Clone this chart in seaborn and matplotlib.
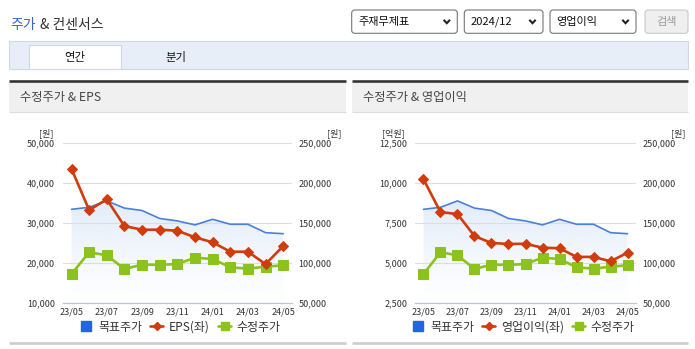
import numpy as np
import pandas as pd
import matplotlib
matplotlib.use("Agg")
import matplotlib.pyplot as plt
import seaborn as sns
from matplotlib.patches import Rectangle, FancyBboxPatch
from matplotlib.lines import Line2D
from matplotlib.colors import to_rgb

# ---------------- data ----------------
months = ["23/05", "23/06", "23/07", "23/08", "23/09", "23/10", "23/11",
          "23/12", "24/01", "24/02", "24/03", "24/04", "24/05"]
target_price = [167500, 170000, 178000, 169000, 166000, 156000, 153000,
                148000, 155000, 148800, 148800, 138300, 137000]
adj_price = [86600, 113800, 110000, 92900, 98300, 98000, 99100,
             107000, 105400, 95000, 93300, 95800, 97500]
eps = [43600, 33300, 36000, 29300, 28400, 28400, 28150,
       26500, 25250, 22900, 22900, 19800, 24300]
op_income = [10250, 8200, 8080, 6700, 6270, 6210, 6220,
             5975, 5940, 5400, 5400, 5125, 5660]

xtick_labels = ["23/05", "23/07", "23/09", "23/11", "24/01", "24/03", "24/05"]
eps_ticks = [10000, 20000, 30000, 40000, 50000]
op_ticks = [2500, 5000, 7500, 10000, 12500]
price_ticks = [50000, 100000, 150000, 200000, 250000]

# ---------------- style ----------------
sns.set_style("white")
plt.rcParams['font.family'] = ['Noto Sans CJK KR', 'DejaVu Sans']

W, H = 695, 349
fig = plt.figure(figsize=(W / 100, H / 100), dpi=100)
fig.patch.set_facecolor('white')

bg = fig.add_axes([0, 0, 1, 1])
bg.set_xlim(0, W)
bg.set_ylim(H, 0)
bg.axis('off')
bg.set_zorder(0)

RED = '#d03c0c'
GREEN = '#8cc21c'
BLUE_LINE = '#4a80dc'
BLUE_SQ = '#2266dd'
AXC = '#bcc6d6'
TICKC = '#333333'


def rect(x0, y0, x1, y1, **kw):
    bg.add_patch(Rectangle((x0, y0), x1 - x0, y1 - y0, **kw))


def hline(x0, x1, y, color, lw_px):
    bg.plot([x0, x1], [y, y], color=color, lw=lw_px * 0.72, solid_capstyle='butt')


# ---------------- page header ----------------
bg.text(10, 25, "주가", color='#3366cc', fontsize=10, va='center', ha='left')
bg.text(40.5, 25, "& 컨센서스", color='#333333', fontsize=10, va='center', ha='left')

# dropdowns
for (x0, x1, label) in [(351.7, 457.3, "주재무제표"), (464.3, 543, "2024/12"), (550, 636, "영업이익")]:
    bg.add_patch(FancyBboxPatch((x0, 10), x1 - x0, 23.3,
                                boxstyle='round,pad=0,rounding_size=3',
                                fc='white', ec='#767676', lw=0.8))
    bg.text(x0 + 6.5, 22, label, fontsize=8, color='#111111', va='center', ha='left')
    cx, cy = x1 - 10.5, 21.5
    bg.plot([cx - 3.2, cx, cx + 3.2], [cy - 1.7, cy + 1.7, cy - 1.7],
            color='#222222', lw=1.5, solid_joinstyle='miter', solid_capstyle='butt')
bg.add_patch(FancyBboxPatch((645, 10), 43, 23.3, boxstyle='round,pad=0,rounding_size=3',
                            fc='#efefef', ec='#c8c8c8', lw=0.8))
bg.text(666.5, 21.5, "검색", fontsize=8, color='#9a9a9a', va='center', ha='center')

# tab bar
rect(9.3, 40.7, 688, 69.3, fc='#e8eef8', ec='#cfd8e6', lw=0.8)
rect(29.3, 45.3, 120.7, 69.3, fc='white', ec='#cfd8e6', lw=0.8)
bg.text(75, 57.5, "연간", fontsize=8.2, color='#111111', va='center', ha='center')
bg.text(175.7, 57.5, "분기", fontsize=8.2, color='#111111', va='center', ha='center')

# panels
for (px0, px1, title) in [(9, 346, "수정주가 & EPS"), (352, 688, "수정주가 & 영업이익")]:
    rect(px0, 81.5, px1, 112, fc='#f0f0f0', ec='none')
    hline(px0, px1, 80.7, '#333333', 2.6)
    hline(px0, px1, 112.2, '#dddddd', 1.2)
    hline(px0, px1, 343.3, '#cccccc', 2.6)
    bg.text(px0 + 11, 97, title, fontsize=8.8, color='#444444', va='center', ha='left')


# ---------------- charts ----------------
def draw_chart(left_px, right_px, left_vals, left_label, left_ticks,
               left_unit, lunit_x, runit_x, legend_cx):
    top, bottom = 143.3, 303.3
    ax = fig.add_axes([left_px / W, 1 - bottom / H, (right_px - left_px) / W, (bottom - top) / H])
    ax2 = ax.twinx()
    ax.set_zorder(2)
    ax2.set_zorder(1)
    ax.patch.set_visible(False)
    ax2.patch.set_visible(False)

    df = pd.DataFrame({'pos': np.arange(len(months)), 'month': months,
                       'target': target_price, 'adj': adj_price, 'left': left_vals})

    # target price area (gradient) + line
    poly = ax2.fill_between(df['pos'], df['target'], price_ticks[0],
                            facecolor='none', edgecolor='none')
    grad = np.zeros((256, 1, 4))
    grad[..., :3] = to_rgb('#d8e6f9')
    grad[:, 0, 3] = np.linspace(0.0, 0.8, 256) ** 1.2
    im = ax2.imshow(grad, extent=[-0.5, len(months) - 0.5, price_ticks[0], 180000],
                    origin='lower', aspect='auto', zorder=0.3, interpolation='bilinear')
    im.set_clip_path(poly.get_paths()[0], transform=ax2.transData)

    sns.lineplot(data=df, x='pos', y='target', ax=ax2, color=BLUE_LINE, lw=1.2,
                 sort=False, zorder=3, legend=False)
    sns.lineplot(data=df, x='pos', y='adj', ax=ax2, color=GREEN, lw=1.9, marker='s',
                 ms=6.5, mec=GREEN, mfc=GREEN, sort=False, zorder=4, legend=False)
    sns.lineplot(data=df, x='pos', y='left', ax=ax, color=RED, lw=1.9, marker='D',
                 ms=5.5, mec=RED, mfc=RED, sort=False, zorder=4, legend=False)

    for a in (ax, ax2):
        a.set_xlabel('')
        a.set_ylabel('')
        for s in ('top', 'left', 'right'):
            a.spines[s].set_visible(False)
    ax2.spines['bottom'].set_visible(False)
    ax.spines['bottom'].set_color(AXC)
    ax.spines['bottom'].set_linewidth(0.9)

    ax.set_xlim(-0.5, len(months) - 0.5)
    ax.set_ylim(left_ticks[0], left_ticks[-1])
    ax2.set_ylim(price_ticks[0], price_ticks[-1])

    ax2.set_axisbelow(True)
    ax2.yaxis.grid(True, color='#dddddd', lw=0.8)
    ax.grid(False)

    ax.set_yticks(left_ticks)
    ax.set_yticklabels([f"{v:,}" for v in left_ticks])
    ax.tick_params(axis='y', length=0, pad=5.5, labelsize=6.5, labelcolor=TICKC)
    ax2.set_yticks(price_ticks)
    ax2.set_yticklabels([f"{v:,}" for v in price_ticks])
    ax2.tick_params(axis='y', length=0, pad=4.5, labelsize=6.5, labelcolor=TICKC)

    ax.set_xticks([months.index(m) for m in xtick_labels])
    ax.set_xticklabels(xtick_labels)
    ax.set_xticks([-0.5] + list(np.arange(0.5, len(months), 2)), minor=True)
    ax.tick_params(axis='x', which='major', length=0, pad=3, labelsize=6.5, labelcolor=TICKC)
    ax.tick_params(axis='x', which='minor', length=4, width=0.8, color=AXC, direction='out')

    # unit labels
    bg.text(lunit_x, 133, left_unit, fontsize=6.5, color=TICKC, ha='right', va='center')
    bg.text(runit_x, 133, "[원]", fontsize=6.5, color=TICKC, ha='right', va='center')

    handles = [Line2D([], [], ls='none', marker='s', ms=7.5, color=BLUE_SQ),
               Line2D([], [], color=RED, lw=1.9, marker='D', ms=4.5),
               Line2D([], [], color=GREEN, lw=1.9, marker='s', ms=5.5)]
    ax.legend(handles, ['목표주가', left_label, '수정주가'], loc='center',
              bbox_to_anchor=(legend_cx / W, 1 - 327 / H), bbox_transform=fig.transFigure,
              ncol=3, frameon=False, fontsize=8.6, handlelength=1.1, handletextpad=0.45,
              columnspacing=0.7, labelcolor='#333333', borderpad=0)


draw_chart(62.7, 292, eps, 'EPS(좌)', eps_ticks, "[원]", 54, 341.7, 180)
draw_chart(415, 636, op_income, '영업이익(좌)', op_ticks, "[억원]", 405, 685, 523)

fig.savefig("out.png", dpi=100, facecolor='white')
